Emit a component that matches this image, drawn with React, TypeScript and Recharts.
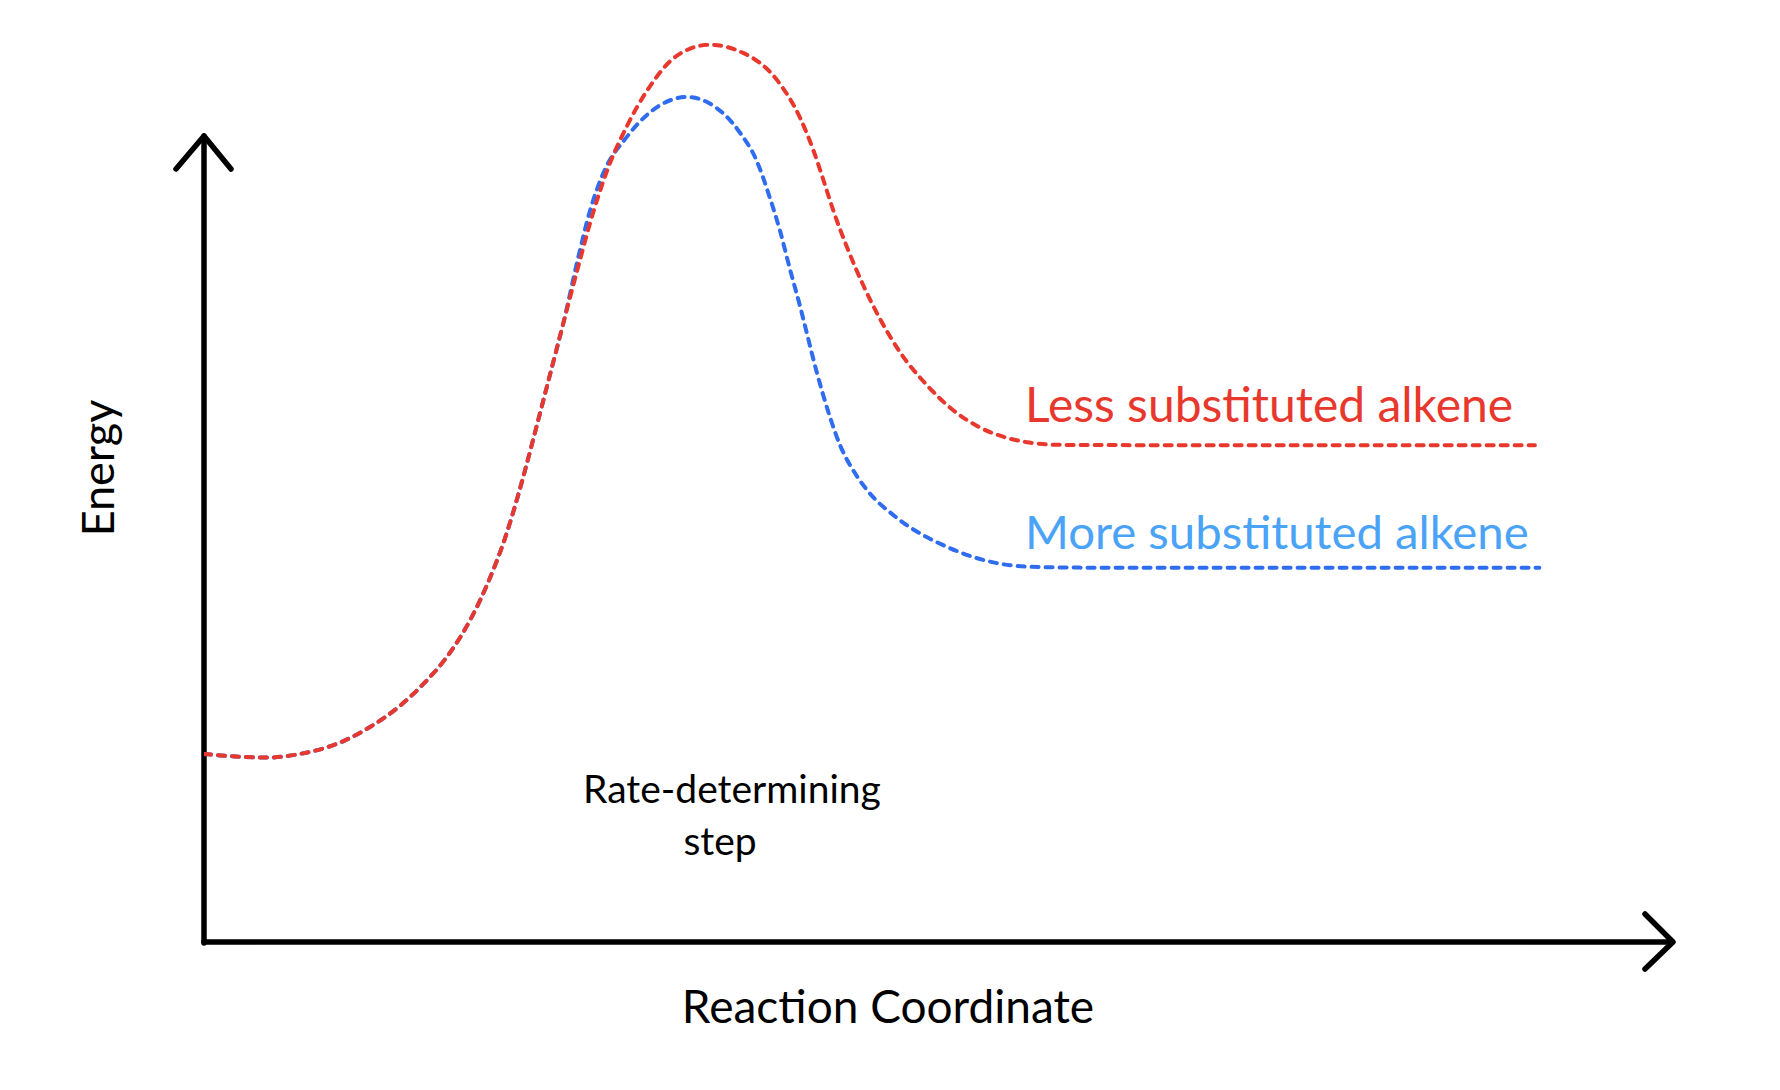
import React from "react";
import { LineChart, Line, XAxis, YAxis } from "recharts";

// reaction coordinate (0-100) / energy (0-100)
const lessSubstituted = [
  { x: 0, y: 21.0 },
  { x: 2.45, y: 20.7 },
  { x: 4.3, y: 20.6 },
  { x: 6.5, y: 21.0 },
  { x: 9.3, y: 22.3 },
  { x: 11.3, y: 24.0 },
  { x: 13.3, y: 26.3 },
  { x: 15.0, y: 28.9 },
  { x: 16.4, y: 31.5 },
  { x: 17.6, y: 34.4 },
  { x: 18.8, y: 38.1 },
  { x: 19.7, y: 41.5 },
  { x: 20.35, y: 44.3 },
  { x: 21.0, y: 47.6 },
  { x: 21.7, y: 51.6 },
  { x: 22.4, y: 55.9 },
  { x: 23.1, y: 60.3 },
  { x: 23.8, y: 64.7 },
  { x: 24.45, y: 68.8 },
  { x: 25.45, y: 75.0 },
  { x: 26.5, y: 81.2 },
  { x: 27.6, y: 86.5 },
  { x: 28.8, y: 90.8 },
  { x: 30.2, y: 94.8 },
  { x: 32.2, y: 98.6 },
  { x: 34.4, y: 99.8 },
  { x: 36.7, y: 98.9 },
  { x: 39.0, y: 95.9 },
  { x: 40.6, y: 91.6 },
  { x: 41.5, y: 88.0 },
  { x: 42.2, y: 84.6 },
  { x: 42.9, y: 81.1 },
  { x: 43.8, y: 77.2 },
  { x: 44.9, y: 73.0 },
  { x: 46.0, y: 69.4 },
  { x: 47.4, y: 65.6 },
  { x: 49.2, y: 62.0 },
  { x: 51.0, y: 59.2 },
  { x: 52.8, y: 57.3 },
  { x: 54.5, y: 56.2 },
  { x: 56.2, y: 55.6 },
  { x: 58.3, y: 55.35 },
  { x: 70.0, y: 55.3 },
  { x: 90.6, y: 55.3 },
];

const moreSubstituted = [
  { x: 0, y: 21.0 },
  { x: 2.45, y: 20.7 },
  { x: 4.3, y: 20.6 },
  { x: 6.5, y: 21.0 },
  { x: 9.3, y: 22.3 },
  { x: 11.3, y: 24.0 },
  { x: 13.3, y: 26.3 },
  { x: 15.0, y: 28.9 },
  { x: 16.4, y: 31.5 },
  { x: 17.6, y: 34.4 },
  { x: 18.8, y: 38.1 },
  { x: 19.7, y: 41.5 },
  { x: 20.35, y: 44.3 },
  { x: 21.0, y: 47.6 },
  { x: 21.7, y: 51.6 },
  { x: 22.4, y: 55.9 },
  { x: 23.1, y: 60.3 },
  { x: 23.8, y: 64.7 },
  { x: 24.45, y: 68.8 },
  { x: 25.45, y: 76.0 },
  { x: 26.3, y: 81.5 },
  { x: 27.2, y: 85.6 },
  { x: 28.8, y: 89.6 },
  { x: 30.6, y: 92.6 },
  { x: 32.9, y: 94.0 },
  { x: 34.4, y: 93.3 },
  { x: 36.5, y: 90.0 },
  { x: 37.6, y: 87.0 },
  { x: 38.5, y: 82.9 },
  { x: 39.2, y: 79.2 },
  { x: 39.9, y: 74.8 },
  { x: 40.6, y: 70.6 },
  { x: 41.0, y: 68.0 },
  { x: 41.7, y: 63.5 },
  { x: 42.6, y: 58.5 },
  { x: 43.3, y: 55.3 },
  { x: 44.2, y: 52.5 },
  { x: 45.1, y: 50.4 },
  { x: 47.2, y: 47.2 },
  { x: 50.6, y: 44.0 },
  { x: 54.0, y: 42.2 },
  { x: 56.2, y: 41.8 },
  { x: 61.0, y: 41.7 },
  { x: 70.0, y: 41.7 },
  { x: 90.9, y: 41.7 },
];

const labels = {
  less: "Less substituted alkene",
  more: "More substituted alkene",
  rds1: "Rate-determining",
  rds2: "step",
  xTitle: "Reaction Coordinate",
  yTitle: "Energy",
};

const FONT = "Lato, 'Open Sans', sans-serif";
const RED = "#e8382d";
const BLUE = "#2f6cf0";
const BLUE_TEXT = "#4aa3f7";

const App = () => {
  return (
    <div style={{ width: 1760, height: 1070, background: "#fff" }}>
      <LineChart
        width={1760}
        height={1070}
        margin={{ top: 35, right: 95, bottom: 135, left: 196 }}
      >
        <XAxis type="number" dataKey="x" domain={[0, 100]} hide allowDataOverflow />
        <YAxis type="number" dataKey="y" domain={[0, 100]} hide allowDataOverflow />

        {/* axes with arrow heads */}
        <g stroke="#000" strokeWidth={5.5} strokeLinecap="round" strokeLinejoin="round" fill="none">
          <path d="M196 935 L196 128" />
          <path d="M168 161 L196 128 L223 161" />
          <path d="M196 934 L1664 934" />
          <path d="M1637 906 L1665 934 L1637 961" />
        </g>

        <Line
          data={moreSubstituted}
          dataKey="y"
          type="monotone"
          stroke={BLUE}
          strokeWidth={4}
          strokeDasharray="7 7"
          strokeLinecap="round"
          dot={false}
          activeDot={false}
          isAnimationActive={false}
        />
        <Line
          data={lessSubstituted}
          dataKey="y"
          type="monotone"
          stroke={RED}
          strokeWidth={4}
          strokeDasharray="7 7"
          strokeLinecap="round"
          dot={false}
          activeDot={false}
          isAnimationActive={false}
        />

        <text x={1017} y={414} fill={RED} fontFamily={FONT} fontSize={48}>
          {labels.less}
        </text>
        <text x={1017} y={541} fill={BLUE_TEXT} fontFamily={FONT} fontSize={47.3}>
          {labels.more}
        </text>
        <text x={724} y={795} textAnchor="middle" fill="#000" fontFamily={FONT} fontSize={39}>
          {labels.rds1}
        </text>
        <text x={712} y={847} textAnchor="middle" fill="#000" fontFamily={FONT} fontSize={39}>
          {labels.rds2}
        </text>
        <text x={880} y={1015} textAnchor="middle" fill="#000" fontFamily={FONT} fontSize={46}>
          {labels.xTitle}
        </text>
        <text
          x={106}
          y={460}
          textAnchor="middle"
          fill="#000"
          fontFamily={FONT}
          fontSize={45}
          transform="rotate(-90 106 460)"
        >
          {labels.yTitle}
        </text>
      </LineChart>
    </div>
  );
};

export default App;
